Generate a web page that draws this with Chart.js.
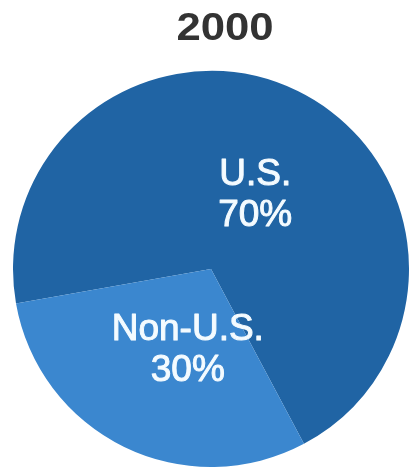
<!DOCTYPE html>
<html>
<head>
<meta charset="utf-8">
<script src="https://cdn.jsdelivr.net/npm/chart.js@4"></script>
<style>
  html, body { margin: 0; padding: 0; background: #ffffff; }
  #wrap { position: relative; width: 409px; height: 473px; }
</style>
</head>
<body>
<div id="wrap"><canvas id="c"></canvas></div>
<script>
const titleText = '2000';
const categories = ['U.S.', 'Non-U.S.'];
const shares = [70, 30];
const sliceColors = ['#2064a4', '#3b87cf'];

// Title drawn centered a little right of the pie, as in the reference
const titlePlugin = {
  id: 'titleText',
  afterDraw(chart) {
    const ctx = chart.ctx;
    ctx.save();
    ctx.translate(225, 40);
    ctx.scale(1.12, 1);
    ctx.font = 'bold 39px "Liberation Sans", Arial, sans-serif';
    ctx.fillStyle = '#333333';
    ctx.textAlign = 'center';
    ctx.textBaseline = 'alphabetic';
    ctx.fillText(titleText, 0, 0);
    ctx.restore();
  }
};

// Slice labels: name on first line, percentage below
const labelOffsets = [[6, 4], [15, 2]];
const sliceLabels = {
  id: 'sliceLabels',
  afterDatasetsDraw(chart) {
    const ctx = chart.ctx;
    const meta = chart.getDatasetMeta(0);
    const data = chart.data.datasets[0].data;
    ctx.save();
    ctx.font = '37px "Liberation Sans", Arial, sans-serif';
    ctx.fillStyle = '#f4fbff';
    ctx.strokeStyle = '#f4fbff';
    ctx.lineWidth = 1;
    ctx.lineJoin = 'round';
    ctx.textAlign = 'center';
    ctx.textBaseline = 'middle';
    meta.data.forEach((arc, i) => {
      const p = arc.getProps(['x', 'y', 'startAngle', 'endAngle', 'outerRadius'], true);
      const mid = (p.startAngle + p.endAngle) / 2;
      const r = p.outerRadius * 0.44;
      const cx = p.x + Math.cos(mid) * r + labelOffsets[i][0];
      const cy = p.y + Math.sin(mid) * r + labelOffsets[i][1];
      const lines = [chart.data.labels[i], data[i] + '%'];
      const ys = [cy - 20, cy + 21];
      lines.forEach((t, k) => {
        ctx.fillText(t, cx, ys[k]);
        ctx.strokeText(t, cx, ys[k]);
      });
    });
    ctx.restore();
  }
};

new Chart(document.getElementById('c'), {
  type: 'pie',
  data: {
    labels: categories,
    datasets: [{
      data: shares,
      backgroundColor: sliceColors,
      borderWidth: 0,
      hoverOffset: 0,
      offset: 0
    }]
  },
  options: {
    responsive: true,
    maintainAspectRatio: false,
    animation: false,
    rotation: -100,
    layout: { padding: { left: 13, right: 0, top: 71, bottom: 6 } },
    plugins: {
      legend: { display: false },
      tooltip: { enabled: false },
      title: { display: false }
    },
    events: []
  },
  plugins: [titlePlugin, sliceLabels]
});
</script>
</body>
</html>
